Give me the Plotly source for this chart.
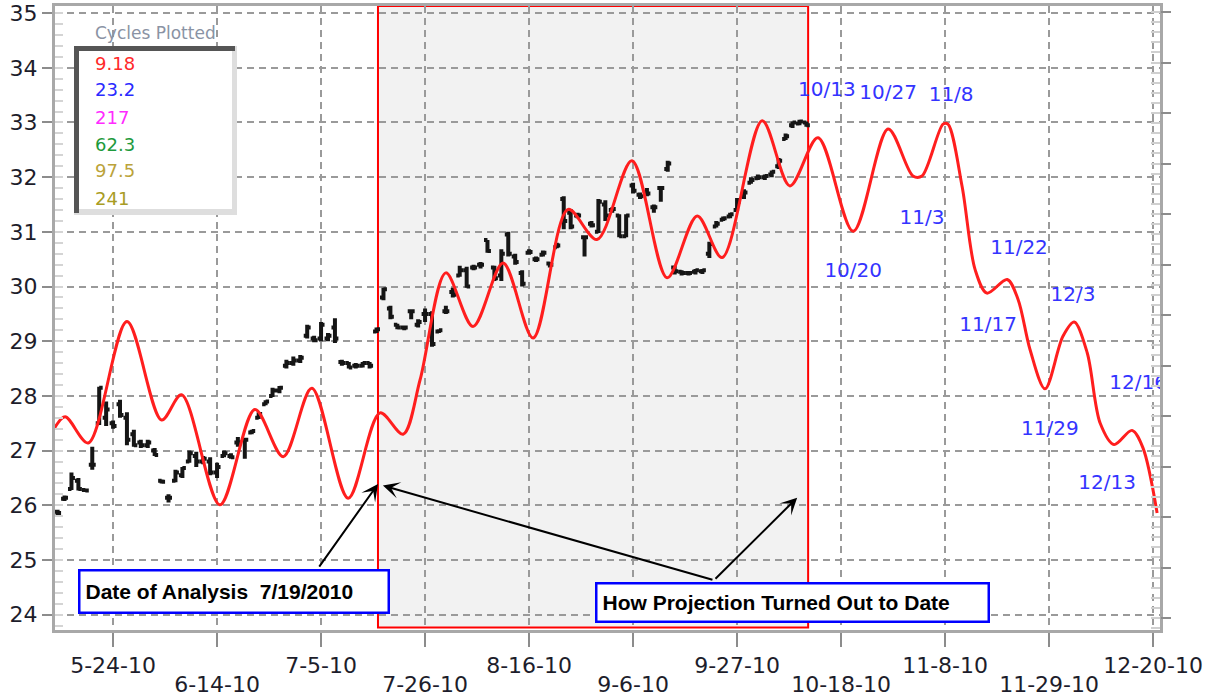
import pandas as pd
import plotly.graph_objects as go

# daily price bars (trading days from 2010-05-12 to 2010-10-11)
bar_start = "2010-05-12"
bar_open = [25.88, 26.12, 26.30, 26.45, 26.28, 26.74, 27.50, 27.60, 27.50, 27.85,
            27.60, 27.30, 27.15, 27.10, 27.00, 26.45, 26.14, 26.45, 26.55, 26.80,
            26.90, 26.80, 26.80, 26.60, 26.90, 26.90, 27.15, 27.20, 27.33, 27.60,
            27.85, 28.00, 28.10, 28.55, 28.60, 28.65, 29.10, 29.05, 29.05, 29.05,
            29.25, 28.62, 28.60, 28.55, 28.55, 28.60, 29.18, 29.80, 29.60, 29.30,
            29.25, 29.55, 29.30, 29.50, 29.50, 29.18, 29.55, 29.90, 30.20, 30.30,
            30.35, 30.40, 30.85, 30.35, 30.20, 30.95, 30.55, 30.25, 30.62, 30.50,
            30.58, 30.42, 30.72, 31.60, 31.35, 31.30, 30.90, 31.15, 31.00, 31.50,
            31.40, 31.30, 30.92, 31.85, 31.68, 31.70, 31.45, 31.80, 32.15, 30.35,
            30.27, 30.25, 30.27, 30.28, 30.60, 31.10, 31.22, 31.28, 31.40, 31.65,
            31.90, 31.98, 32.00, 32.05, 32.20, 32.70, 32.95, 32.98, 33.00]
bar_high = [25.92, 26.18, 26.60, 26.50, 26.30, 27.07, 28.17, 27.90, 27.55, 27.93,
            27.70, 27.38, 27.20, 27.20, 27.05, 26.47, 26.20, 26.65, 26.70, 27.00,
            26.98, 26.90, 26.88, 26.78, 27.00, 26.95, 27.25, 27.20, 27.38, 27.70,
            27.92, 28.15, 28.18, 28.66, 28.72, 28.75, 29.30, 29.10, 29.35, 29.15,
            29.42, 28.66, 28.62, 28.60, 28.62, 28.62, 29.25, 29.98, 29.65, 29.32,
            29.28, 29.58, 29.40, 29.60, 29.55, 29.22, 29.65, 29.98, 30.38, 30.36,
            30.40, 30.45, 30.85, 30.38, 30.68, 31.00, 30.60, 30.30, 30.68, 30.55,
            30.66, 30.45, 30.80, 31.65, 31.42, 31.35, 30.92, 31.20, 31.60, 31.58,
            31.45, 31.32, 31.32, 31.90, 31.72, 31.80, 31.50, 31.82, 32.30, 30.38,
            30.30, 30.28, 30.32, 30.32, 30.82, 31.20, 31.28, 31.35, 31.62, 31.78,
            32.00, 32.05, 32.05, 32.12, 32.35, 32.80, 33.02, 33.05, 33.02]
bar_low = [25.82, 26.08, 26.28, 26.27, 26.25, 26.65, 27.47, 27.45, 27.40, 27.60,
           27.10, 27.07, 27.05, 27.05, 26.90, 26.40, 26.05, 26.42, 26.50, 26.78,
           26.70, 26.75, 26.55, 26.50, 26.88, 26.85, 27.07, 26.85, 27.30, 27.58,
           27.83, 27.98, 28.05, 28.50, 28.55, 28.60, 29.05, 28.98, 29.00, 29.00,
           28.97, 28.55, 28.50, 28.50, 28.52, 28.50, 29.15, 29.75, 29.40, 29.22,
           29.20, 29.40, 29.25, 29.35, 28.90, 29.15, 29.50, 29.80, 30.18, 29.98,
           30.30, 30.33, 30.62, 30.10, 30.10, 30.55, 30.40, 30.00, 30.58, 30.45,
           30.55, 30.35, 30.70, 31.05, 31.05, 31.25, 30.55, 31.08, 30.98, 31.20,
           31.35, 30.90, 30.90, 31.70, 31.60, 31.65, 31.35, 31.55, 32.10, 30.22,
           30.20, 30.20, 30.22, 30.23, 30.52, 31.08, 31.20, 31.25, 31.38, 31.60,
           31.88, 31.95, 31.95, 32.00, 32.15, 32.68, 32.90, 32.95, 32.92]
bar_close = [25.86, 26.14, 26.50, 26.30, 26.27, 26.74, 28.15, 27.75, 27.45, 27.65,
             27.20, 27.10, 27.10, 27.15, 26.92, 26.43, 26.14, 26.60, 26.68, 26.95,
             26.80, 26.85, 26.60, 26.70, 26.95, 26.88, 27.15, 27.20, 27.36, 27.67,
             27.90, 28.10, 28.15, 28.60, 28.65, 28.70, 29.25, 29.02, 29.30, 29.10,
             29.05, 28.60, 28.52, 28.55, 28.60, 28.55, 29.22, 29.95, 29.45, 29.25,
             29.25, 29.55, 29.35, 29.50, 28.95, 29.20, 29.55, 29.85, 30.30, 30.00,
             30.35, 30.40, 30.65, 30.15, 30.60, 30.60, 30.45, 30.05, 30.63, 30.50,
             30.62, 30.40, 30.75, 31.20, 31.10, 31.30, 30.90, 31.12, 31.55, 31.30,
             31.42, 30.92, 31.30, 31.75, 31.65, 31.70, 31.45, 31.80, 32.25, 30.28,
             30.25, 30.25, 30.30, 30.30, 30.78, 31.15, 31.25, 31.32, 31.55, 31.72,
             31.95, 32.00, 32.02, 32.10, 32.30, 32.75, 33.00, 33.02, 32.95]

# composite cycle projection (red line)
proj_dates = ["2010-05-11 12:00", "2010-05-13 02:00", "2010-05-18 10:00", "2010-05-26 00:00",
              "2010-06-02 00:00", "2010-06-04 21:00", "2010-06-14 10:00", "2010-06-21 11:00",
              "2010-06-25 13:00", "2010-07-01 16:00", "2010-07-08 22:00", "2010-07-15 12:00",
              "2010-07-20 20:00", "2010-07-23 07:00", "2010-07-29 00:00", "2010-08-03 22:00",
              "2010-08-10 06:00", "2010-08-16 14:00", "2010-08-23 15:00", "2010-08-27 19:00",
              "2010-09-03 20:00", "2010-09-10 22:00", "2010-09-17 06:00", "2010-09-22 20:00",
              "2010-09-30 15:00", "2010-10-06 15:00", "2010-10-12 16:00", "2010-10-19 18:00",
              "2010-10-26 19:00", "2010-11-01 09:00", "2010-11-02 16:00", "2010-11-05 17:00",
              "2010-11-08 10:00", "2010-11-10 11:00", "2010-11-12 08:00", "2010-11-16 01:00",
              "2010-11-18 23:00", "2010-11-22 13:00", "2010-11-24 06:00", "2010-11-26 10:00",
              "2010-12-01 00:00", "2010-12-02 15:00", "2010-12-06 12:00", "2010-12-08 09:00",
              "2010-12-10 09:00", "2010-12-14 23:00", "2010-12-16 13:00", "2010-12-20 14:00"]
proj_vals = [27.40, 27.62, 27.14, 29.36, 27.56, 28.02, 26.01, 27.75,
             26.89, 28.14, 26.13, 27.69, 27.30, 28.30, 30.25, 29.27,
             30.43, 29.06, 31.41, 30.86, 32.30, 30.16, 31.29, 30.53,
             33.03, 31.84, 32.72, 31.01, 32.88, 32.02, 32.02, 32.97,
             32.97, 31.83, 30.31, 29.88, 30.13, 29.76, 28.85, 28.13,
             29.09, 29.35, 28.79, 27.50, 27.11, 27.37, 27.05, 25.86]

# turning point date labels
turn_text = ["10/13", "10/27", "11/8", "11/3", "10/20", "11/22", "12/3", "11/17", "12/16", "11/29", "12/13"]
turn_dates = ["2010-10-13 23:00", "2010-10-26 19:00", "2010-11-08 21:00", "2010-11-02 16:00",
              "2010-10-19 18:00", "2010-11-22 16:00", "2010-12-02 11:00", "2010-11-16 05:00",
              "2010-12-15 20:00", "2010-11-29 03:00", "2010-12-09 09:00"]
turn_vals = [33.57, 33.52, 33.48, 31.23, 30.27, 30.68, 29.82, 29.27, 28.22, 27.38, 26.39]

# axis ticks
tick_dates = ["2010-05-24", "2010-06-14", "2010-07-05", "2010-07-26", "2010-08-16", "2010-09-06",
              "2010-09-27", "2010-10-18", "2010-11-08", "2010-11-29", "2010-12-20"]
tick_labels = ["5-24-10", "6-14-10", "7-5-10", "7-26-10", "8-16-10", "9-6-10",
               "9-27-10", "10-18-10", "11-8-10", "11-29-10", "12-20-10"]
y_ticks = list(range(24, 36))

cycles = ["9.18", "23.2", "217", "62.3", "97.5", "241"]
cycle_colors = ["#ff2a2a", "#2a2aff", "#ff2aff", "#1e9a3c", "#bba33a", "#a89c24"]

analysis_start = "2010-07-15 05:00"
analysis_end = "2010-10-11 06:00"

bar_dates = pd.bdate_range(bar_start, periods=len(bar_close))

fig = go.Figure()

fig.add_trace(go.Ohlc(
    x=bar_dates, open=bar_open, high=bar_high, low=bar_low, close=bar_close,
    increasing=dict(line=dict(color="#151515", width=4)),
    decreasing=dict(line=dict(color="#151515", width=4)),
    tickwidth=0.5, showlegend=False, hoverinfo="skip"))

fig.add_trace(go.Scatter(
    x=proj_dates, y=proj_vals, mode="lines",
    line=dict(color="#ff1e1e", width=3, shape="spline", smoothing=0.9),
    showlegend=False, hoverinfo="skip"))

fig.add_trace(go.Scatter(
    x=turn_dates, y=turn_vals, mode="text", text=turn_text,
    textposition="middle center", cliponaxis=True,
    textfont=dict(family="DejaVu Sans", size=20, color="#3434ff"),
    showlegend=False, hoverinfo="skip"))

# empty trace to hold the secondary axes
fig.add_trace(go.Scatter(x=[], y=[], xaxis="x2", yaxis="y2", showlegend=False))

# shaded analysis window
fig.add_shape(type="rect", xref="x", yref="paper", x0=analysis_start, x1=analysis_end,
              y0=0.004, y1=1, fillcolor="#f2f2f2", line=dict(width=0), layer="below")
fig.add_shape(type="rect", xref="x", yref="paper", x0=analysis_start, x1=analysis_end,
              y0=0.004, y1=1, fillcolor="rgba(0,0,0,0)", line=dict(color="#ff0000", width=2),
              layer="between")

x_range = ["2010-05-11 15:00", "2010-12-21 00:00"]
gridstyle = dict(showgrid=True, gridcolor="#9a9a9a", gridwidth=1.6, griddash="7px,5px")
axfont = dict(family="DejaVu Sans", size=22, color="#1d1d2b")
xfont = dict(family="DejaVu Sans", size=22, color="#1d1d2b")

fig.update_layout(
    width=1217, height=698, autosize=False,
    margin=dict(l=55, r=57, t=6, b=68),
    paper_bgcolor="white", plot_bgcolor="white",
    showlegend=False,
    xaxis=dict(type="date", range=x_range, rangebreaks=[dict(bounds=["sat", "mon"])],
               rangeslider=dict(visible=False), automargin=False,
               tickmode="array", tickvals=tick_dates,
               ticktext=[t if i % 2 == 0 else "" for i, t in enumerate(tick_labels)],
               ticks="outside", ticklen=14, tickwidth=1.5, tickcolor="#8c8c8c",
               tickfont=xfont,
               showline=True, linecolor="#a8a8a8", linewidth=3, mirror=True,
               zeroline=False, **gridstyle),
    xaxis2=dict(type="date", range=x_range, rangebreaks=[dict(bounds=["sat", "mon"])],
                overlaying="x", anchor="y", side="bottom", automargin=False,
                tickmode="array", tickvals=tick_dates[1::2], ticktext=tick_labels[1::2],
                ticks="outside", ticklen=14, tickcolor="rgba(0,0,0,0)", ticklabelstandoff=21,
                tickfont=xfont,
                showgrid=False, showline=False, zeroline=False),
    yaxis=dict(range=[23.72, 35.13], tickmode="array", tickvals=y_ticks, automargin=False,
               ticks="outside", ticklen=10, tickwidth=1.5, tickcolor="#8c8c8c",
               tickfont=axfont,
               minor=dict(ticks="inside", ticklen=8, tickcolor="#d4d4d4", dtick=0.2, showgrid=False),
               showline=True, linecolor="#a8a8a8", linewidth=3, mirror=True,
               zeroline=False, **gridstyle),
    yaxis2=dict(range=[-0.237, 12.119], overlaying="y", side="right", anchor="x", automargin=False,
                dtick=1, ticks="outside", ticklen=10, tickwidth=2, tickcolor="#8c8c8c",
                minor=dict(ticks="inside", ticklen=9, tickcolor="#d0d0d0", dtick=0.2),
                showticklabels=False, showgrid=False, showline=False, zeroline=False),
)


def px(x):
    return (x - 55) / 1105


def py(y):
    return (630 - y) / 624


# "Cycles Plotted" box
fig.add_shape(type="rect", xref="paper", yref="paper", x0=px(74), x1=px(237), y0=py(215), y1=py(46),
              fillcolor="#dedede", line=dict(width=0), layer="above")
fig.add_shape(type="rect", xref="paper", yref="paper", x0=px(79), x1=px(232), y0=py(209), y1=py(51),
              fillcolor="white", line=dict(width=0), layer="above")
fig.add_shape(type="rect", xref="paper", yref="paper", x0=px(74), x1=px(79), y0=py(213), y1=py(46),
              fillcolor="#555555", line=dict(width=0), layer="above")
fig.add_shape(type="rect", xref="paper", yref="paper", x0=px(74), x1=px(235), y0=py(51), y1=py(46),
              fillcolor="#555555", line=dict(width=0), layer="above")
fig.add_annotation(xref="paper", yref="paper", x=px(155), y=py(33), text="Cycles Plotted",
                   showarrow=False, xanchor="center", yanchor="middle",
                   font=dict(family="DejaVu Sans", size=17, color="#8a93a4"))
for i, (c, col) in enumerate(zip(cycles, cycle_colors)):
    fig.add_annotation(xref="paper", yref="paper", x=px(93), y=py(63 + i * 27), text=c,
                       showarrow=False, xanchor="left", yanchor="middle",
                       font=dict(family="DejaVu Sans", size=18, color=col))

# callout arrows
arrows = [("2010-07-15 05:00", 26.39, "2010-07-02 14:00", 24.85),
          ("2010-07-15 22:00", 26.36, "2010-09-21 16:00", 24.63),
          ("2010-10-07 16:00", 26.14, "2010-09-21 16:00", 24.63)]
for hx, hy, tx, ty in arrows:
    fig.add_annotation(x=hx, y=hy, ax=tx, ay=ty, xref="x", yref="y", axref="x", ayref="y",
                       text="", showarrow=True, arrowhead=3, arrowsize=1.4, arrowwidth=2,
                       arrowcolor="black", standoff=0)

# callout boxes
fig.add_annotation(xref="paper", yref="paper", x=px(78), y=py(569), xanchor="left", yanchor="top",
                   text="<b>Date of Analysis  7/19/2010</b>", showarrow=False, align="left",
                   width=297, height=30, borderpad=5, bordercolor="#0000ff", borderwidth=2.5,
                   bgcolor="white", font=dict(family="Liberation Sans", size=21, color="black"))
fig.add_annotation(xref="paper", yref="paper", x=px(595), y=py(582), xanchor="left", yanchor="top",
                   text="<b>How Projection Turned Out to Date</b>", showarrow=False, align="left",
                   width=380, height=26, borderpad=5, bordercolor="#0000ff", borderwidth=2.5,
                   bgcolor="white", font=dict(family="Liberation Sans", size=21, color="black"))

# drop the default page margin so the figure sits at the window corner
fig.write_html("out.html", config={"displayModeBar": False},
               post_script="document.body.style.margin='0';")
